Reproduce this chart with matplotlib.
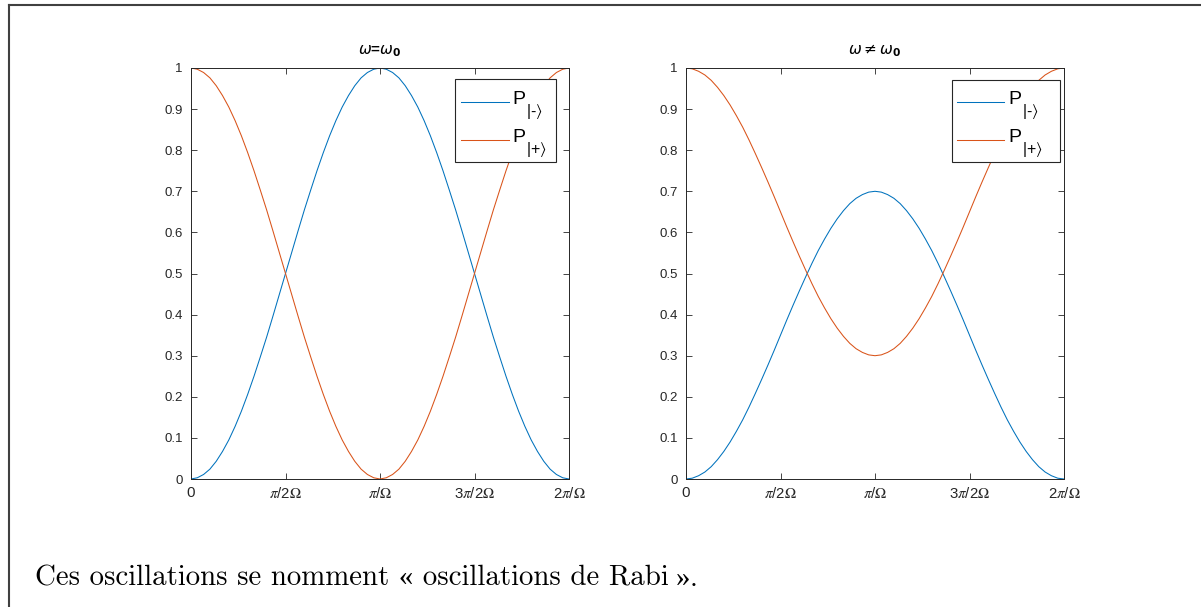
import matplotlib
matplotlib.use("Agg")
import matplotlib.pyplot as plt
from matplotlib.lines import Line2D
from matplotlib.patches import Rectangle

plt.rcParams['font.family'] = ['Liberation Sans', 'DejaVu Sans']
plt.rcParams['mathtext.fontset'] = 'stix'

W, H = 1201, 607

# time axis, in units of pi/Omega (61 samples from 0 to 2pi/Omega)
t = [k / 30 for k in range(61)]

# resonant case
p_minus_res = [0.0, 0.003, 0.011, 0.024, 0.043, 0.067, 0.095, 0.128, 0.165, 0.206,
               0.25, 0.297, 0.345, 0.396, 0.448, 0.5, 0.552, 0.604, 0.655, 0.703,
               0.75, 0.794, 0.835, 0.872, 0.905, 0.933, 0.957, 0.976, 0.989, 0.997,
               1.0, 0.997, 0.989, 0.976, 0.957, 0.933, 0.905, 0.872, 0.835, 0.794,
               0.75, 0.703, 0.655, 0.604, 0.552, 0.5, 0.448, 0.396, 0.345, 0.297,
               0.25, 0.206, 0.165, 0.128, 0.095, 0.067, 0.043, 0.024, 0.011, 0.003, 0.0]
p_plus_res = [1.0, 0.997, 0.989, 0.976, 0.957, 0.933, 0.905, 0.872, 0.835, 0.794,
              0.75, 0.703, 0.655, 0.604, 0.552, 0.5, 0.448, 0.396, 0.345, 0.297,
              0.25, 0.206, 0.165, 0.128, 0.095, 0.067, 0.043, 0.024, 0.011, 0.003,
              0.0, 0.003, 0.011, 0.024, 0.043, 0.067, 0.095, 0.128, 0.165, 0.206,
              0.25, 0.297, 0.345, 0.396, 0.448, 0.5, 0.552, 0.604, 0.655, 0.703,
              0.75, 0.794, 0.835, 0.872, 0.905, 0.933, 0.957, 0.976, 0.989, 0.997, 1.0]

# detuned case
p_minus_det = [0.0, 0.002, 0.008, 0.017, 0.030, 0.047, 0.067, 0.090, 0.116, 0.144,
               0.175, 0.208, 0.242, 0.277, 0.313, 0.35, 0.387, 0.423, 0.458, 0.492,
               0.525, 0.556, 0.584, 0.610, 0.633, 0.653, 0.670, 0.683, 0.692, 0.698,
               0.7, 0.698, 0.692, 0.683, 0.670, 0.653, 0.633, 0.610, 0.584, 0.556,
               0.525, 0.492, 0.458, 0.423, 0.387, 0.35, 0.313, 0.277, 0.242, 0.208,
               0.175, 0.144, 0.116, 0.090, 0.067, 0.047, 0.030, 0.017, 0.008, 0.002, 0.0]
p_plus_det = [1.0, 0.998, 0.992, 0.983, 0.970, 0.953, 0.933, 0.910, 0.884, 0.856,
              0.825, 0.792, 0.758, 0.723, 0.687, 0.65, 0.613, 0.577, 0.542, 0.508,
              0.475, 0.444, 0.416, 0.390, 0.367, 0.347, 0.330, 0.317, 0.308, 0.302,
              0.3, 0.302, 0.308, 0.317, 0.330, 0.347, 0.367, 0.390, 0.416, 0.444,
              0.475, 0.508, 0.542, 0.577, 0.613, 0.65, 0.687, 0.723, 0.758, 0.792,
              0.825, 0.856, 0.884, 0.910, 0.933, 0.953, 0.970, 0.983, 0.992, 0.998, 1.0]

x_ticks = [0, 0.5, 1, 1.5, 2]
x_ticklabels = ['0', r'$\pi$/2$\Omega$', r'$\pi$/$\Omega$', r'3$\pi$/2$\Omega$', r'2$\pi$/$\Omega$']
y_ticks = [k / 10 for k in range(11)]
y_ticklabels = ['0', '0.1', '0.2', '0.3', '0.4', '0.5', '0.6', '0.7', '0.8', '0.9', '1']

legend_main = ['P', 'P']
legend_subs = ['|-' + r'$\rangle$', '|+' + r'$\rangle$']
titles = [r'$\omega$=$\omega_{\mathbf{0}}$', r'$\omega\neq\omega_{\mathbf{0}}$']
caption = ['Ces oscillations se nomment « oscillations de Rabi', '»', '.']

BLUE = '#0072BD'
ORANGE = '#D95319'
AXCOL = '#262626'

fig = plt.figure(figsize=(W / 100, H / 100), dpi=100)
fig.patch.set_facecolor('white')


def fx(px):
    return px / W


def fy(py):
    return 1 - py / H


def style_axes(ax, title):
    ax.set_xlim(0, 2)
    ax.set_ylim(0, 1)
    ax.set_xticks(x_ticks)
    ax.set_xticklabels(x_ticklabels)
    ax.set_yticks(y_ticks)
    ax.set_yticklabels(y_ticklabels)
    ax.tick_params(direction='in', length=4, width=0.6, color=AXCOL,
                   labelcolor=AXCOL, top=True, right=True, pad=6)
    ax.tick_params(axis='y', labelsize=9.5)
    ax.tick_params(axis='x', labelsize=10.8, pad=5)
    for sp in ax.spines.values():
        sp.set_color(AXCOL)
        sp.set_linewidth(0.7)
    ax.set_title(title, fontsize=11, fontweight='bold', color='black', pad=10,
                 math_fontfamily='dejavusans')


def draw_legend(lines, box, line_x, text_x, rows):
    """Legend box drawn by hand (pixel positions) so the subscripts can sit low."""
    x0, y0, x1, y1 = box
    fig.add_artist(Rectangle((fx(x0), fy(y1)), fx(x1) - fx(x0), fy(y0) - fy(y1),
                             transform=fig.transFigure, facecolor='white',
                             edgecolor=AXCOL, linewidth=0.8, zorder=5))
    for line, main, sub, ry in zip(lines, legend_main, legend_subs, rows):
        fig.add_artist(Line2D([fx(line_x[0]), fx(line_x[1])], [fy(ry), fy(ry)],
                              color=line.get_color(), linewidth=line.get_linewidth(), zorder=6))
        ptxt = fig.text(fx(text_x), fy(ry + 2), main, fontsize=14, color='black',
                        ha='left', va='baseline', zorder=6)
        bb = ptxt.get_window_extent(fig.canvas.get_renderer())
        fig.text((bb.x1 + 0.5) / W, fy(ry), sub, fontsize=11.5, color='black',
                 ha='left', va='top', zorder=6)


positions = [[fx(191), fy(479), fx(569) - fx(191), fy(68) - fy(479)],
             [fx(686), fy(479), fx(1064) - fx(686), fy(68) - fy(479)]]
series = [(p_minus_res, p_plus_res), (p_minus_det, p_plus_det)]
leg_layout = [((455, 79, 556, 162), (461, 509), 512, (102, 140)),
              ((952, 80, 1060, 162), (957, 1004), 1008, (102, 140))]

for pos, (pm, pp), title, lay in zip(positions, series, titles, leg_layout):
    ax = fig.add_axes(pos)
    l1, = ax.plot(t, pm, color=BLUE, linewidth=0.75)
    l2, = ax.plot(t, pp, color=ORANGE, linewidth=0.75)
    style_axes(ax, title)
    draw_legend([l1, l2], *lay)

# page frame lines
fig.add_artist(Line2D([fx(9), 1.0], [fy(5), fy(5)], color='#404040', linewidth=1.5))
fig.add_artist(Line2D([fx(9), fx(9)], [0.0, fy(5)], color='#404040', linewidth=1.5))

renderer = fig.canvas.get_renderer()

# caption in Computer Modern, pieces laid out one after another
x_px = 35
gaps = [7, 0, 0]
fams = [['cmr10', 'Liberation Serif'], ['Liberation Serif'], ['cmr10', 'Liberation Serif']]
for piece, gap, fam in zip(caption, gaps, fams):
    txt = fig.text(fx(x_px), fy(586), piece, family=fam, fontsize=20.8,
                   color='black', ha='left', va='baseline')
    bb = txt.get_window_extent(renderer)
    x_px = bb.x1 + gap

fig.savefig('out.png', dpi=100)
